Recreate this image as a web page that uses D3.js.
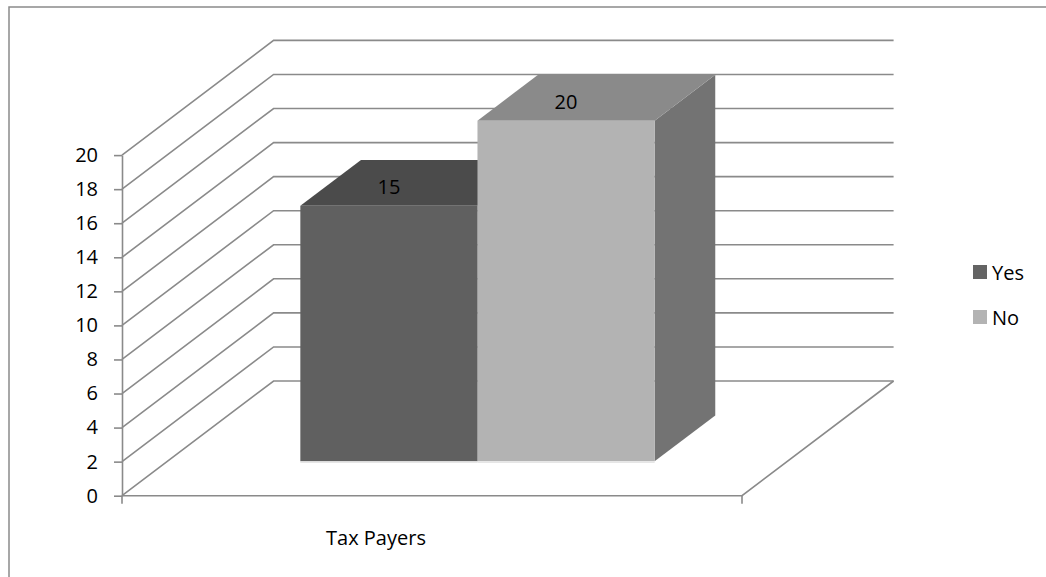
<!DOCTYPE html>
<html>
<head>
<meta charset="utf-8">
<script src="https://cdn.jsdelivr.net/npm/d3@7"></script>
<style>
  html, body { margin: 0; padding: 0; background: #fff; }
  svg { display: block; }
  text { font-family: "Open Sans", "Liberation Sans", sans-serif; fill: #000; }
</style>
</head>
<body>
<svg id="chart" width="1046" height="577"></svg>
<script>
// Survey answers of tax payers
const categories = ["Tax Payers"];
const seriesNames = ["Yes", "No"];
const yesValues = [15];
const noValues = [20];
const yTicks = [0, 2, 4, 6, 8, 10, 12, 14, 16, 18, 20];

const seriesValues = { Yes: yesValues, No: noValues };
const colors = {
  Yes: { front: "#606060", top: "#4b4b4b", side: "#565656", legend: "#646464" },
  No:  { front: "#b3b3b3", top: "#8a8a8a", side: "#737373", legend: "#b3b3b3" }
};

const svg = d3.select("#chart");
const FONT = 20;

// oblique projection of the 3-D box: depth f in [0,1]
const DX = 151.6, DY = 114.7;
const barDepth = [0.3, 0.7];

const y = d3.scaleLinear().domain([0, 20]).range([495.7, 155.1]);
const x0 = d3.scaleBand().domain(categories).range([122, 742]).padding(0);
const x1 = d3.scaleBand().domain(seriesNames).range([0, x0.bandwidth()])
  .paddingInner(0).paddingOuter(0.75);

const px = (xv, f) => xv + f * DX;
const py = (v, f) => y(v) - f * DY;
const poly = pts => pts.map(p => p.join(",")).join(" ");

const gridColor = "#8a8a8a";

// chart area border
svg.append("rect")
  .attr("x", 9).attr("y", 7).attr("width", 1100).attr("height", 700)
  .attr("fill", "none").attr("stroke", "#8a8a8a").attr("stroke-width", 1.5);

const [xl, xr] = x0.range();

// side wall and back wall gridlines
const grid = svg.append("g");
yTicks.forEach(t => {
  grid.append("polyline")
    .attr("points", poly([[px(xl, 0), py(t, 0)], [px(xl, 1), py(t, 1)], [px(xr, 1), py(t, 1)]]))
    .attr("fill", "none").attr("stroke", gridColor).attr("stroke-width", 1.6);
});

// floor outline
svg.append("polyline")
  .attr("points", poly([[px(xl, 0), py(0, 0)], [px(xr, 0), py(0, 0)], [px(xr, 1), py(0, 1)]]))
  .attr("fill", "none").attr("stroke", gridColor).attr("stroke-width", 1.6);

// value axis
const yAxis = d3.axisLeft(y).tickValues(yTicks).tickSize(8).tickSizeOuter(0).tickPadding(16);
const ga = svg.append("g").attr("transform", `translate(${xl},0)`).call(yAxis);
ga.select(".domain").attr("stroke", gridColor).attr("stroke-width", 1.6);
ga.selectAll(".tick line").attr("stroke", gridColor).attr("stroke-width", 1.6);
ga.selectAll(".tick text").attr("font-size", FONT).attr("font-family", "Open Sans").attr("fill", "#000");

// category axis end ticks
[xl, xr].forEach(xv => {
  svg.append("line").attr("x1", xv).attr("x2", xv)
    .attr("y1", y(0)).attr("y2", y(0) + 8)
    .attr("stroke", gridColor).attr("stroke-width", 1.6);
});

// category label
svg.selectAll(".cat").data(categories).enter().append("text")
  .attr("class", "cat")
  .attr("x", d => x0(d) + x0.bandwidth() / 2 - 56)
  .attr("y", 537)
  .attr("text-anchor", "middle").attr("dominant-baseline", "central")
  .attr("font-size", FONT)
  .text(d => d);

// 3-D bars
const bars = svg.append("g");
categories.forEach((c, ci) => {
  seriesNames.forEach(s => {
    const v = seriesValues[s][ci];
    const a = x0(c) + x1(s), b = a + x1.bandwidth();
    const [f0, f1] = barDepth;
    const col = colors[s];
    // right side
    bars.append("polygon")
      .attr("points", poly([[px(b, f0), py(v, f0)], [px(b, f1), py(v, f1)], [px(b, f1), py(0, f1)], [px(b, f0), py(0, f0)]]))
      .attr("fill", col.side);
    // top
    bars.append("polygon")
      .attr("points", poly([[px(a, f0), py(v, f0)], [px(a, f1), py(v, f1)], [px(b, f1), py(v, f1)], [px(b, f0), py(v, f0)]]))
      .attr("fill", col.top);
    // front
    bars.append("rect")
      .attr("x", px(a, f0)).attr("y", py(v, f0))
      .attr("width", b - a).attr("height", py(0, f0) - py(v, f0))
      .attr("fill", col.front);
    // faint floor shadow under the front face
    bars.append("line")
      .attr("x1", px(a, f0)).attr("x2", px(b, f0))
      .attr("y1", py(0, f0) + 1).attr("y2", py(0, f0) + 1)
      .attr("stroke", "#e6e6e6").attr("stroke-width", 1.5);
    // value label on top face
    bars.append("text")
      .attr("x", px((a + b) / 2, f0))
      .attr("y", py(v, 0.47))
      .attr("text-anchor", "middle").attr("dominant-baseline", "central")
      .attr("font-size", FONT)
      .text(v);
  });
});

// legend
const legend = svg.append("g");
seriesNames.forEach((s, i) => {
  const ly = 272 + i * 45;
  legend.append("rect").attr("x", 973).attr("y", ly - 7).attr("width", 14).attr("height", 14)
    .attr("fill", colors[s].legend);
  legend.append("text").attr("x", 992).attr("y", ly)
    .attr("dominant-baseline", "central").attr("font-size", FONT).text(s);
});
</script>
</body>
</html>
